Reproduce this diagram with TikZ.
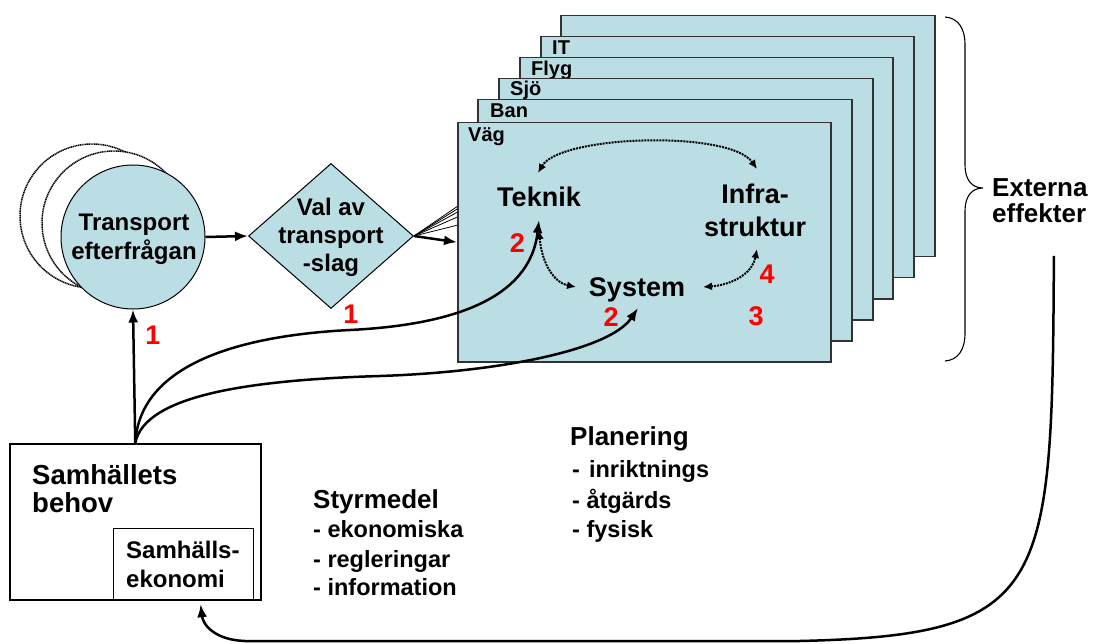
\documentclass[tikz,border=0pt]{standalone}
\usepackage{fontspec}
\setmainfont{Liberation Sans}
\usetikzlibrary{shapes.geometric,arrows.meta}
\pgfdeclarelayer{bg}
\pgfsetlayers{bg,main}
\definecolor{lb}{RGB}{187,221,228}
\definecolor{rd}{RGB}{255,0,0}
\definecolor{edgec}{RGB}{50,50,50}
\begin{document}
\begin{tikzpicture}[x=1pt,y=-1pt,
  layer/.style={rectangle, draw=edgec, line width=1.5pt, fill=lb, inner sep=0pt, anchor=north west},
  lbl/.style={font=\fontsize{20}{24}\selectfont\bfseries, anchor=base west, inner sep=0pt},
  big/.style={font=\fontsize{27}{33}\selectfont\bfseries, align=center, inner sep=0pt},
  mid/.style={font=\fontsize{24}{29}\selectfont\bfseries, align=center, inner sep=0pt},
  head/.style={font=\fontsize{26}{30}\selectfont\bfseries, anchor=base west, inner sep=0pt},
  item/.style={font=\fontsize{23.5}{27}\selectfont\bfseries, anchor=base west, inner sep=0pt},
  num/.style={font=\fontsize{27}{32}\selectfont\bfseries, text=rd, inner sep=0pt},
  conn/.style={line width=2.5pt, -{Latex[length=13pt,width=10pt]}},
  dots/.style={line width=2pt, densely dotted, {Latex[length=9pt,width=8pt]}-{Latex[length=9pt,width=8pt]}},
  fan/.style={line width=0.8pt},
  ghost/.style={circle, minimum size=144pt, draw, dash pattern=on 1.2pt off 0.6pt, line width=1.5pt, fill=white, inner sep=0pt}
]
\begin{pgfonlayer}{bg}
\fill[white] (0,0) rectangle (1097,644);
\end{pgfonlayer}
\useasboundingbox (0,0) rectangle (1097,644);

% stacked layers
\node[layer, minimum width=374pt, minimum height=241pt] (last) at (560,15) {};
\node[layer, minimum width=373pt, minimum height=241pt] (it) at (540,36) {};
\node[lbl] (lit) at (552,55) {IT};
\node[layer, minimum width=373pt, minimum height=241pt] (flyg) at (519,57) {};
\node[lbl] (lflyg) at (531,76) {Flyg};
\node[layer, minimum width=374pt, minimum height=241pt] (sjo) at (498,78) {};
\node[lbl] (lsjo) at (510,96) {Sjö};
\node[layer, minimum width=374pt, minimum height=241pt] (ban) at (477,99) {};
\node[lbl] (lban) at (490,118) {Ban};
\node[layer, minimum width=373pt, minimum height=239pt] (vag) at (457,122) {};
\node[lbl] (lvag) at (468,142) {Väg};

% inner nodes
\node[big] (tek) at (539,197) {Teknik};
\node[big] (inf) at (755,210) {Infra-\\struktur};
\node[big] (sys) at (637,290) {System};

% circles
\node[ghost] (c3) at (92,216) {};
\node[ghost] (c2) at (114,223) {};
\node[circle, minimum size=144pt, draw, line width=1pt, fill=lb, inner sep=0pt] (circ) at (133,237) {};
\node[mid] (circt) at (134,239) {Transport\\efterfrågan};

% diamond
\node[diamond, draw, line width=1pt, fill=lb, minimum width=165pt, minimum height=145pt, inner sep=0pt] (diam) at (331,236) {};
\node[mid, font=\fontsize{24}{28}\selectfont\bfseries] (diamt) at (331,237) {Val av\\transport\\-slag};

% Samhallets box
\node[rectangle, draw, line width=1.5pt, fill=white, minimum width=251pt, minimum height=156pt, anchor=north west, inner sep=0pt] (samh) at (9,443) {};
\node[rectangle, draw, line width=1.2pt, fill=white, minimum width=140pt, minimum height=71pt, anchor=north west, inner sep=0pt] (sek) at (113,528) {};
\node[font=\fontsize{27.5}{28}\selectfont\bfseries, align=left, anchor=west, inner sep=0pt] (samt) at (32,489) {Samhällets\\behov};
\node[font=\fontsize{24}{29}\selectfont\bfseries, align=left, anchor=west, inner sep=0pt] (sekt) at (126,564) {Samhälls-\\ekonomi};

% text blocks
\node[head] (sty) at (313,508) {Styrmedel};
\node[item] (sty1) at (313,537) {- ekonomiska};
\node[item] (sty2) at (313,567) {- regleringar};
\node[item] (sty3) at (313,595) {- information};
\node[head] (pla) at (570,445) {Planering};
\node[item] (pla1) at (572,477) {-\hspace{9pt}inriktnings};
\node[item] (pla2) at (572,508) {- åtgärds};
\node[item] (pla3) at (572,537) {- fysisk};
\node[font=\fontsize{26}{26}\selectfont\bfseries, align=left, anchor=west, inner sep=0pt] (ext) at (992,200.5) {Externa\\effekter};

% red numbers
\node[num] (n1) at (153,335) {1};
\node[num] (n2) at (351,314) {1};
\node[num] (n3) at (517.5,243) {2};
\node[num] (n4) at (611,317) {2};
\node[num] (n5) at (767,274) {4};
\node[num] (n6) at (756,316) {3};

% fan lines (hidden behind front layer)
\begin{pgfonlayer}{bg}
\draw[fan] (diam.east) -- (ban.west);
\draw[fan] (diam.east) -- (sjo.west);
\draw[fan] (diam.east) -- (flyg.west);
\draw[fan] (diam.east) -- (it.west);
\draw[fan] (diam.east) -- (last.west);
\end{pgfonlayer}

% connectors
\draw[conn] (circ.east) -- (diam.west);
\draw[conn] (diam.east) -- (vag.west);
\draw[conn] (samh.north) -- (circ.south);
\draw[conn] (samh.north) .. controls (140,360) and (250,335) .. (350,330)
  .. controls (450,325) and (530,300) .. ([shift={(0,23)}]tek.center);
\draw[conn] (samh.north) .. controls (145,395) and (250,380) .. (380,376)
  .. controls (500,372) and (610,350) .. ([shift={(1,18)}]sys.center);
\draw[dots] ([shift={(-1,-24)}]tek.center) .. controls (560,135) and (730,130) .. ([shift={(2,-41)}]inf.center);
\draw[dots] ([shift={(0,33)}]tek.center) .. controls (542,265) and (555,283) .. ([shift={(-61,-3)}]sys.center);
\draw[dots] ([shift={(66,-3)}]sys.center) .. controls (730,285) and (752,275) .. ([shift={(2,39)}]inf.center);
\draw[conn] ([shift={(14,33)}]ext.south) .. controls (1052,590) and (1050,635) .. (800,641)
  -- (245,641) .. controls (215,640) and (203,625) .. ([shift={(17,4)}]sek.south);

% brace
\draw[line width=1.1pt] (945,17) .. controls (958,18) and (965,28) .. (965,45) -- (965,165)
  .. controls (965,180) and (972,188) .. (983,188)
  .. controls (972,188) and (965,196) .. (965,211) -- (965,333)
  .. controls (965,350) and (958,360) .. (945,361);
\end{tikzpicture}
\end{document}
